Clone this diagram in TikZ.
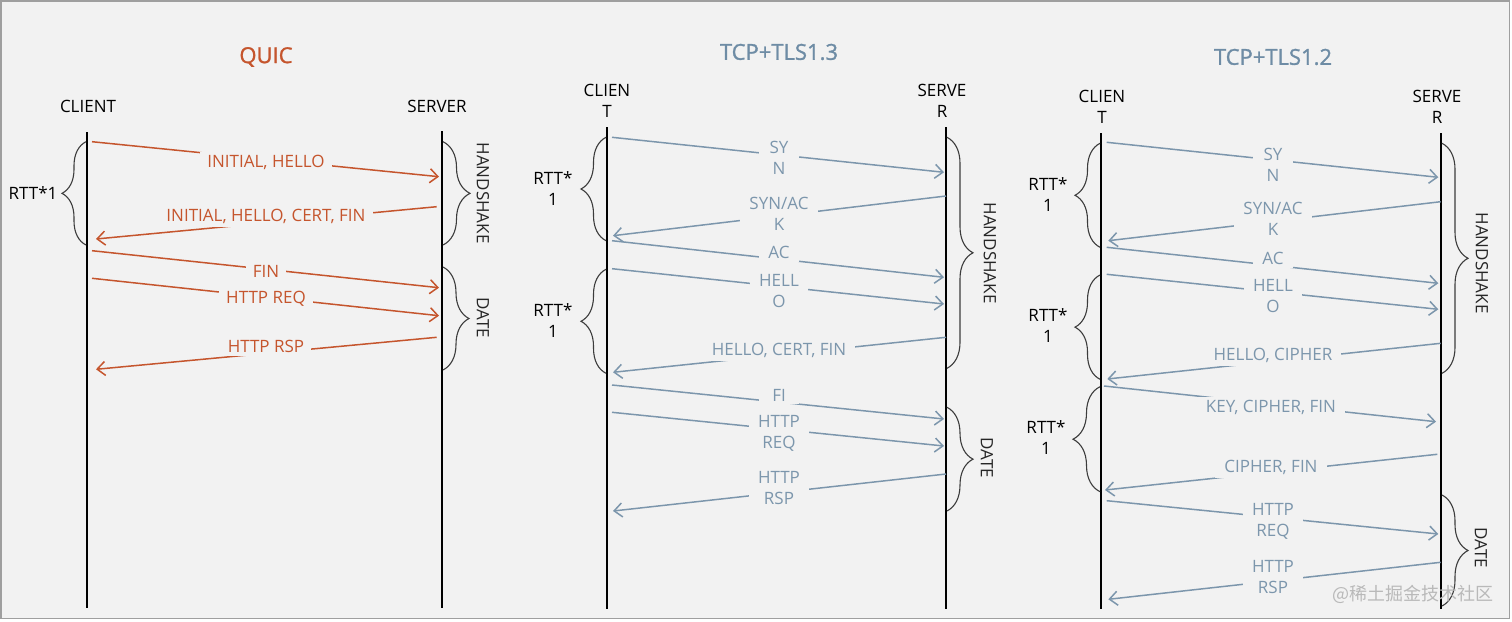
\documentclass[tikz,border=0pt]{standalone}
\usepackage{fontspec}
\setmainfont{Open Sans}
\newfontfamily\cjkfont{Noto Sans CJK SC}
\newfontfamily\titlefont[FakeBold=1.2]{Open Sans}
\usetikzlibrary{arrows.meta,decorations.pathreplacing}
\definecolor{bgc}{HTML}{F2F2F2}
\definecolor{qcol}{RGB}{197,85,45}
\definecolor{tcol}{RGB}{124,150,172}
\definecolor{ttlcol}{RGB}{110,140,165}
\definecolor{brcol}{RGB}{60,60,60}
\newcommand\msg[9]{%
  \coordinate (#2s) at (#3,#4);
  \coordinate (#2e) at (#5,#6);
  \draw[#1arr] (#2s) -- (#2e);
  \node[#1lbl] (#2l) at (#7,#8) {#9};
}
\begin{document}
\begin{tikzpicture}[x=1pt,y=-1pt,
  font=\fontsize{17}{21}\selectfont,
  life/.style={line width=2pt, black},
  qarr/.style={qcol, line width=1.5pt, -{Straight Barb[length=8pt,width=14pt]}},
  tarr/.style={tcol, line width=1.5pt, -{Straight Barb[length=8pt,width=14pt]}},
  lblbase/.style={fill=bgc, inner xsep=7pt, inner ysep=3pt, align=center, minimum width=40pt},
  qlbl/.style={lblbase, text=qcol},
  tlbl/.style={lblbase, text=tcol, inner xsep=9pt},
  brc/.style={brcol, line width=1.1pt, decorate},
  hdr/.style={text=black, align=center},
  ttl/.style={font=\titlefont\fontsize{22}{26}\selectfont},
  side/.style={text=black, align=center},
  vside/.style={text=black!85, rotate=-90},
]
\useasboundingbox (0,0) rectangle (1512,621);
\draw[fill=bgc, draw=gray!75, line width=1.5pt] (0.75,0.75) rectangle (1509.5,618.5);

% ---------------- QUIC ----------------
\node[ttl, text=qcol] (qtitle) at (266,57) {QUIC};
\node[hdr] (qclient) at (88,106) {CLIENT};
\node[hdr] (qserver) at (437,106) {SERVER};
\coordinate (qct) at (87,132); \coordinate (qcb) at (87,608);
\coordinate (qst) at (442,131); \coordinate (qsb) at (442,608);
\draw[life] (qct) -- (qcb);
\draw[life] (qst) -- (qsb);

\msg{q}{q1}{92}{141.7}{439}{176.7}{266}{162}{INITIAL, HELLO}
\msg{q}{q2}{436.7}{206.7}{96}{239}{266}{216.7}{INITIAL, HELLO, CERT, FIN}
\msg{q}{q3}{92}{250.7}{439}{287.7}{266}{271.7}{FIN}
\msg{q}{q4}{92}{278.3}{439}{315.7}{266}{299}{HTTP REQ}
\msg{q}{q5}{436.7}{337.3}{96}{369.3}{266}{346.7}{HTTP RSP}

\draw[brc, decoration={brace, amplitude=24pt}] (86,245) -- (86,141.7);
\node[side] (qrtt) at (33,193) {RTT*1};
\draw[brc, decoration={brace, amplitude=27pt}] (443,141.7) -- (443,245);
\node[vside] (qhs) at (483,193) {HANDSHAKE};
\draw[brc, decoration={brace, amplitude=26pt}] (443,267) -- (443,370);
\node[vside] (qdate) at (483,318) {DATE};

% ---------------- TCP+TLS1.3 ----------------
\node[ttl, text=ttlcol] (atitle) at (779,52) {TCP+TLS1.3};
\node[hdr] (aclient) at (607,101.3) {CLIEN\\T};
\node[hdr] (aserver) at (942,101.3) {SERVE\\R};
\coordinate (act) at (607,127); \coordinate (acb) at (607,609);
\coordinate (ast) at (946,127); \coordinate (asb) at (946,609);
\draw[life] (act) -- (acb);
\draw[life] (ast) -- (asb);

\msg{t}{a1}{612}{137.3}{944}{172.3}{779}{158.3}{SY\\N}
\msg{t}{a2}{946}{196}{613}{235.7}{779}{213.5}{SYN/AC\\K}
\msg{t}{a3}{612}{240.7}{944}{277.3}{779}{252.7}{AC}
\msg{t}{a4}{612}{268.7}{944}{304}{779}{291}{HELL\\O}
\msg{t}{a5}{946}{337.3}{613}{372.3}{779}{350.7}{HELLO, CERT, FIN}
\msg{t}{a6}{612}{385}{944}{419}{779}{395}{FI}
\msg{t}{a7}{612}{412.3}{944}{446}{779}{433.7}{HTTP\\REQ}
\msg{t}{a8}{946}{474}{613}{511}{779}{488.5}{HTTP\\RSP}

\draw[brc, decoration={brace, amplitude=25pt}] (606,240.7) -- (606,137.3);
\node[side] (artt1) at (553,189) {RTT*\\1};
\draw[brc, decoration={brace, amplitude=25pt}] (606,373.3) -- (606,269.3);
\node[side] (artt2) at (553,321) {RTT*\\1};
\draw[brc, decoration={brace, amplitude=26pt}] (947,137.3) -- (947,368.3);
\node[vside] (ahs) at (990,253) {HANDSHAKE};
\draw[brc, decoration={brace, amplitude=26pt}] (947,407.3) -- (947,511);
\node[vside] (adate) at (987,458) {DATE};

% ---------------- TCP+TLS1.2 ----------------
\node[ttl, text=ttlcol] (btitle) at (1273,57) {TCP+TLS1.2};
\node[hdr] (bclient) at (1102,107) {CLIEN\\T};
\node[hdr] (bserver) at (1437,107) {SERVE\\R};
\coordinate (bct) at (1101,133); \coordinate (bcb) at (1101,609);
\coordinate (bst) at (1441,133); \coordinate (bsb) at (1441,609);
\draw[life] (bct) -- (bcb);
\draw[life] (bst) -- (bsb);

\msg{t}{b1}{1106.7}{142.3}{1438.3}{177.3}{1273}{164.5}{SY\\N}
\msg{t}{b2}{1440.7}{201.7}{1108.3}{240.7}{1273}{219}{SYN/AC\\K}
\msg{t}{b3}{1106.7}{247.3}{1438.3}{283.3}{1273}{258.3}{AC}
\msg{t}{b4}{1106.7}{274.3}{1438.3}{309.3}{1273}{296.3}{HELL\\O}
\msg{t}{b5}{1440.7}{343.3}{1107.3}{379}{1273}{355.7}{HELLO, CIPHER}
\msg{t}{b6}{1104}{386}{1436}{421.7}{1271}{407.7}{KEY, CIPHER, FIN}
\msg{t}{b7}{1437.3}{454.3}{1105}{490}{1271}{467.7}{CIPHER, FIN}
\msg{t}{b8}{1106.7}{500.7}{1438.3}{534}{1273}{521.3}{HTTP\\REQ}
\msg{t}{b9}{1440.7}{562.3}{1108.3}{599.3}{1273}{577}{HTTP\\RSP}

\draw[brc, decoration={brace, amplitude=25pt}] (1100,247.3) -- (1100,143.3);
\node[side] (brtt1) at (1048,194.5) {RTT*\\1};
\draw[brc, decoration={brace, amplitude=25pt}] (1100,379.3) -- (1100,275);
\node[side] (brtt2) at (1048,326) {RTT*\\1};
\draw[brc, decoration={brace, amplitude=27pt}] (1100,491.7) -- (1100,386.7);
\node[side] (brtt3) at (1046,438) {RTT*\\1};
\draw[brc, decoration={brace, amplitude=26pt}] (1442,143.3) -- (1442,373.3);
\node[vside] (bhs) at (1482,263) {HANDSHAKE};
\draw[brc, decoration={brace, amplitude=26pt}] (1442,495) -- (1442,606);
\node[vside] (bdate) at (1481,548) {DATE};

% watermark
\node[text=gray!55, font=\cjkfont\fontsize{18}{20}\selectfont] (wm) at (1413,594) {@稀土掘金技术社区};
\end{tikzpicture}
\end{document}
